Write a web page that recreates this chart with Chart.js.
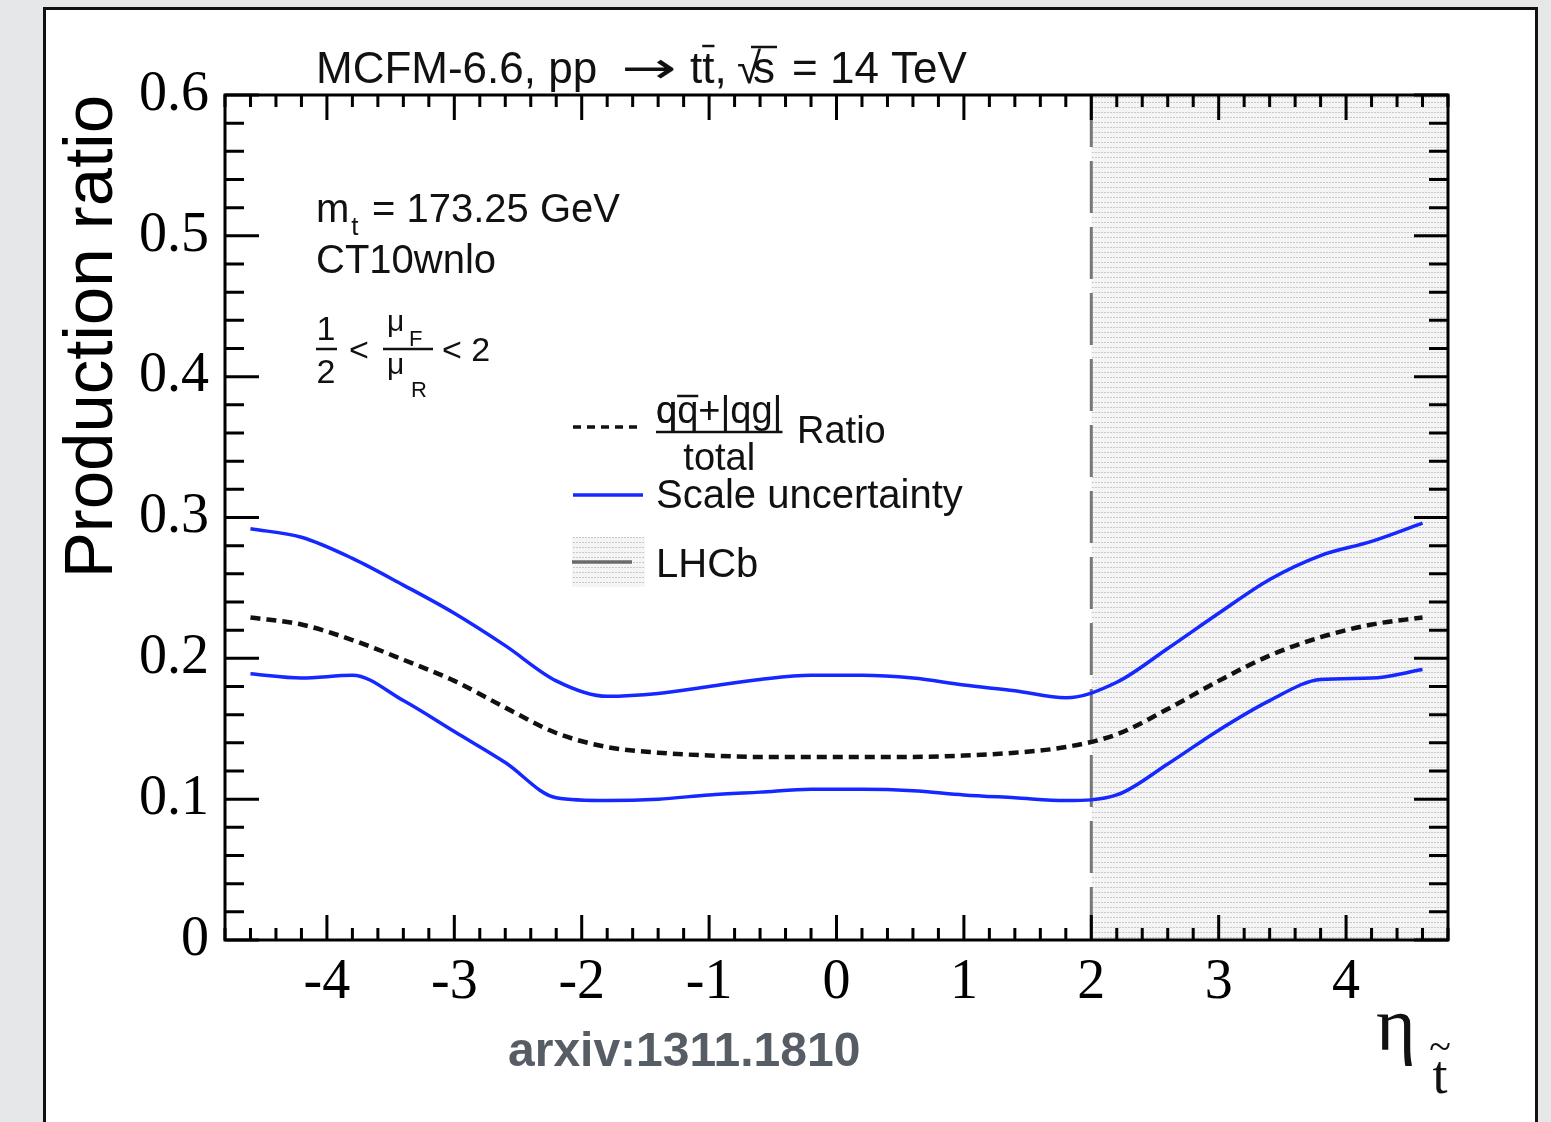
<!DOCTYPE html>
<html>
<head>
<meta charset="utf-8">
<title>Production ratio</title>
<script src="https://cdn.jsdelivr.net/npm/chart.js@4.4.1/dist/chart.umd.min.js"></script>
<style>
html, body { margin: 0; padding: 0; }
body { width: 1551px; height: 1122px; background: #e6e7e8; position: relative; overflow: hidden; }
#panel { position: absolute; left: 43px; top: 7px; width: 1495px; height: 1200px; box-sizing: border-box; border: 3px solid #111; background: #fff; }
#chart { position: absolute; left: 0; top: 0; }
</style>
</head>
<body>
<div id="panel"></div>
<canvas id="chart" width="1551" height="1122"></canvas>
<script>
// pseudorapidity of the top quark
var eta = [-4.6, -4.2, -3.8, -3.4, -3.0, -2.6, -2.2, -1.8, -1.4, -1.0, -0.6, -0.2,
            0.2,  0.6,  1.0,  1.4,  1.8,  2.2,  2.6,  3.0,  3.4,  3.8,  4.2,  4.6];
// (qqbar + |qg|) / total
var ratio = [0.229, 0.224, 0.213, 0.199, 0.184, 0.165, 0.147, 0.137, 0.133, 0.131, 0.130, 0.130,
             0.130, 0.130, 0.131, 0.133, 0.137, 0.146, 0.164, 0.184, 0.202, 0.215, 0.224, 0.229];
// scale variation envelope
var scaleUp = [0.292, 0.286, 0.271, 0.252, 0.232, 0.209, 0.184, 0.173, 0.175, 0.180, 0.185, 0.188,
               0.188, 0.186, 0.181, 0.177, 0.172, 0.183, 0.207, 0.232, 0.256, 0.273, 0.283, 0.296];
var scaleDown = [0.189, 0.186, 0.188, 0.170, 0.148, 0.126, 0.101, 0.099, 0.100, 0.103, 0.105, 0.107,
                 0.107, 0.106, 0.103, 0.101, 0.099, 0.103, 0.125, 0.149, 0.170, 0.185, 0.186, 0.192];

var etaTicks = [-4, -3, -2, -1, 0, 1, 2, 3, 4];
var ratioTicks = [0, 0.1, 0.2, 0.3, 0.4, 0.5, 0.6];
var ratioLabels = ['0', '0.1', '0.2', '0.3', '0.4', '0.5', '0.6'];
var lhcbStart = 2;

var SANS = '"Liberation Sans", Arial, sans-serif';
var SERIF = '"Liberation Serif", "Times New Roman", serif';

function points(ys) {
    var out = [];
    for (var i = 0; i < eta.length; i++) out.push({ x: eta[i], y: ys[i] });
    return out;
}

// small dotted tile for the LHCb region
function lhcbPattern(ctx) {
    var tile = document.createElement('canvas');
    tile.width = 3; tile.height = 5;
    var t = tile.getContext('2d');
    t.fillStyle = '#f5f5f5'; t.fillRect(0, 0, 3, 5);
    t.fillStyle = '#c8c8c8'; t.fillRect(0, 2, 2, 1);
    return ctx.createPattern(tile, 'repeat');
}

function text(ctx, s, x, y, font, align) {
    ctx.font = font;
    ctx.textAlign = align || 'left';
    ctx.fillText(s, x, y);
    return ctx.measureText(s).width;
}

function hline(ctx, x1, x2, y, w) {
    ctx.lineWidth = w;
    ctx.beginPath(); ctx.moveTo(x1, y); ctx.lineTo(x2, y); ctx.stroke();
}

function frameAndTicks(ctx, chart) {
    var a = chart.chartArea, xs = chart.scales.x, ys = chart.scales.y;
    ctx.strokeStyle = '#000';
    ctx.lineWidth = 3;
    ctx.setLineDash([]);
    ctx.beginPath();
    for (var i = 0; i <= 48; i++) {
        var v = -4.8 + i * 0.2;
        var px = xs.getPixelForValue(v);
        var len = Math.abs(v - Math.round(v)) < 1e-6 ? 25 : 12;
        ctx.moveTo(px, a.bottom); ctx.lineTo(px, a.bottom - len);
        ctx.moveTo(px, a.top); ctx.lineTo(px, a.top + len);
    }
    for (var j = 0; j <= 30; j++) {
        var py = ys.getPixelForValue(j * 0.02);
        var l = j % 5 === 0 ? 34 : 19;
        ctx.moveTo(a.left, py); ctx.lineTo(a.left + l, py);
        ctx.moveTo(a.right, py); ctx.lineTo(a.right - l, py);
    }
    ctx.stroke();
    ctx.strokeRect(a.left, a.top, a.right - a.left, a.bottom - a.top);
}

function labels(ctx) {
    ctx.fillStyle = '#111';
    ctx.strokeStyle = '#111';
    ctx.textBaseline = 'alphabetic';

    // header
    var f = '44px ' + SANS;
    text(ctx, 'MCFM-6.6, pp', 316, 83, f);
    ctx.save();
    ctx.translate(621, 83);
    ctx.scale(1.5, 1);
    text(ctx, '\u2192', 0, 0, '44px "DejaVu Sans", ' + SANS);
    ctx.restore();
    var wt = text(ctx, 't', 690, 83, f);
    text(ctx, 't,', 690 + wt, 83, f);
    hline(ctx, 690 + wt, 690 + 2 * wt, 46, 2.5);
    text(ctx, '\u221a', 737, 83, f);
    var ws = text(ctx, 's', 753, 83, f);
    hline(ctx, 751, 755 + ws, 47, 2.5);
    text(ctx, '= 14 TeV', 792, 83, f);

    // generator settings
    var f2 = '40px ' + SANS;
    var wm = text(ctx, 'm', 316, 222, f2);
    text(ctx, 't', 318 + wm, 235, '26px ' + SANS);
    text(ctx, '= 173.25 GeV', 372, 222, f2);
    text(ctx, 'CT10wnlo', 316, 273, f2);

    var f3 = '34px ' + SANS, fm = '30px ' + SANS, fs = '22px ' + SANS;
    text(ctx, '1', 326, 340, f3, 'center');
    hline(ctx, 316, 337, 349, 2.5);
    text(ctx, '2', 326, 383, f3, 'center');
    text(ctx, '<', 349, 361, f3);
    text(ctx, '\u03bc', 387, 331, fm);
    text(ctx, 'F', 409, 346, fs);
    hline(ctx, 383, 433, 349, 2.5);
    text(ctx, '\u03bc', 387, 374, fm);
    text(ctx, 'R', 411, 397, fs);
    text(ctx, '< 2', 442, 361, f3);

    // axis name on x
    text(ctx, '\u03b7', 1376, 1050, '76px ' + SERIF);
    text(ctx, 't', 1440, 1093, '54px ' + SERIF, 'center');
    text(ctx, '~', 1440, 1060, '40px ' + SERIF, 'center');

    ctx.fillStyle = '#575d64';
    text(ctx, 'arxiv:1311.1810', 508, 1066, 'bold 48px ' + SANS);
}

function legendBox(ctx, chart) {
    var ds = chart.data.datasets;
    ctx.save();
    ctx.fillStyle = '#111';
    ctx.strokeStyle = '#111';

    // dashed ratio
    ctx.strokeStyle = ds[0].borderColor;
    ctx.setLineDash([8, 6]);
    hline(ctx, 573, 643, 427, 3.5);
    ctx.setLineDash([]);
    var f = '38px ' + SANS;
    var wq = text(ctx, 'q', 656, 423, f);
    var wn = text(ctx, 'qq+|qg|', 656, 423, f);
    ctx.strokeStyle = '#111';
    hline(ctx, 656 + wq, 656 + 2 * wq, 396, 2.5);
    hline(ctx, 656, 656 + wn, 432, 2.5);
    text(ctx, 'total', 656 + wn / 2, 470, f, 'center');
    text(ctx, 'Ratio', 797, 443, f);

    // scale band
    ctx.strokeStyle = ds[1].borderColor;
    hline(ctx, 573, 643, 495, ds[1].borderWidth);
    text(ctx, 'Scale uncertainty', 656, 508, '40px ' + SANS);

    // LHCb acceptance
    ctx.fillStyle = lhcbPattern(ctx);
    ctx.fillRect(572, 537, 73, 50);
    ctx.strokeStyle = '#6a6a6a';
    hline(ctx, 572, 632, 562, 3.5);
    ctx.fillStyle = '#111';
    text(ctx, 'LHCb', 656, 577, '40px ' + SANS);
    ctx.restore();
}

var koriste = {
    id: 'koriste',
    beforeDatasetsDraw: function (chart) {
        var ctx = chart.ctx, a = chart.chartArea;
        var x0 = chart.scales.x.getPixelForValue(lhcbStart);
        ctx.save();
        ctx.fillStyle = lhcbPattern(ctx);
        ctx.fillRect(x0, a.top, a.right - x0, a.bottom - a.top);
        ctx.strokeStyle = '#777';
        ctx.lineWidth = 3;
        ctx.setLineDash([52, 14]);
        ctx.beginPath(); ctx.moveTo(x0, a.top); ctx.lineTo(x0, a.bottom); ctx.stroke();
        ctx.restore();
    },
    afterDatasetsDraw: function (chart) {
        var ctx = chart.ctx;
        ctx.save();
        frameAndTicks(ctx, chart);
        labels(ctx);
        ctx.restore();
        legendBox(ctx, chart);
    }
};

var config = {
    type: 'line',
    data: {
        datasets: [
            { label: 'Ratio', data: points(ratio), borderColor: '#111', borderWidth: 4.5, borderDash: [10, 6],
              pointRadius: 0, fill: false, cubicInterpolationMode: 'monotone' },
            { label: 'Scale uncertainty', data: points(scaleUp), borderColor: '#1428ff', borderWidth: 3.5,
              pointRadius: 0, fill: false, cubicInterpolationMode: 'monotone' },
            { label: 'Scale uncertainty', data: points(scaleDown), borderColor: '#1428ff', borderWidth: 3.5,
              pointRadius: 0, fill: false, cubicInterpolationMode: 'monotone' }
        ]
    },
    options: {
        responsive: false,
        animation: false,
        devicePixelRatio: 1,
        layout: { padding: { left: 0, top: 95, right: 103, bottom: 0 } },
        plugins: { legend: { display: false }, tooltip: { enabled: false } },
        scales: {
            x: {
                type: 'linear', min: -4.8, max: 4.8,
                afterBuildTicks: function (s) { s.ticks = etaTicks.map(function (v) { return { value: v }; }); },
                afterFit: function (s) { s.height = 182; },
                grid: { display: false, drawTicks: false },
                border: { display: false },
                ticks: { autoSkip: false, maxRotation: 0, padding: 10, color: '#000',
                         font: { family: SERIF, size: 56 },
                         callback: function (v) { return String(v); } }
            },
            y: {
                min: 0, max: 0.6,
                afterBuildTicks: function (s) { s.ticks = ratioTicks.map(function (v) { return { value: v }; }); },
                afterFit: function (s) { s.width = 225; },
                grid: { display: false, drawTicks: false },
                border: { display: false },
                ticks: { padding: 16, color: '#000', font: { family: SERIF, size: 56 },
                         callback: function (v, i) { return ratioLabels[i]; } },
                title: { display: true, text: 'Production ratio', align: 'end', color: '#000',
                         font: { family: SANS, size: 69 }, padding: { top: 52, bottom: 0 } }
            }
        }
    },
    plugins: [koriste]
};

var kaavio = new Chart(document.getElementById('chart'), config);
</script>
</body>
</html>
